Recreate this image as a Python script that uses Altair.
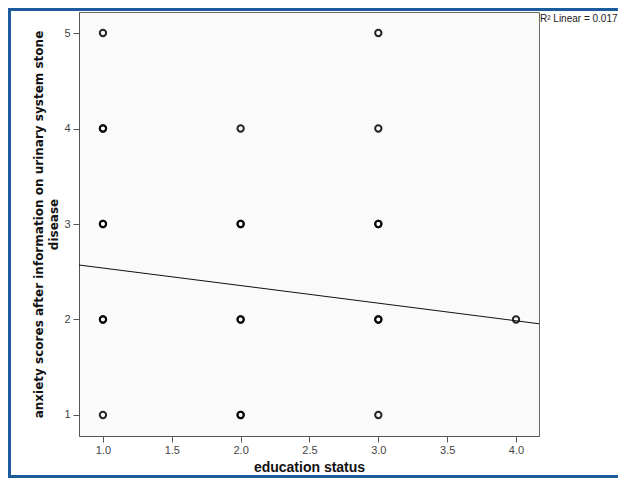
import altair as alt
import pandas as pd

# observed cases (duplicates = overlapping cases, drawn darker)
edu = [1, 1, 1, 1, 1, 1, 1, 1,
       2, 2, 2, 2, 2, 2, 2,
       3, 3, 3, 3, 3, 3, 3,
       4]
anx = [5, 4, 4, 3, 2, 2, 1, 3,
       4, 3, 3, 2, 2, 1, 1,
       5, 4, 3, 3, 2, 2, 1,
       2]

# fitted linear line
line_x = [0.826, 4.167]
line_y = [2.571, 1.956]

x_ticks = [1.0, 1.5, 2.0, 2.5, 3.0, 3.5, 4.0]
y_ticks = [1, 2, 3, 4, 5]
x_domain = [0.826, 4.167]
y_domain = [0.78, 5.22]

r2_label = "R² Linear = 0.017"

pts = pd.DataFrame({"edu": edu, "anx": anx})
ln = pd.DataFrame({"edu": line_x, "anx": line_y})

FONT = "Liberation Sans"
BLUE = "#1d5c9c"

xscale = alt.Scale(domain=x_domain, nice=False, zero=False)
yscale = alt.Scale(domain=y_domain, nice=False, zero=False)

xax = alt.Axis(values=x_ticks, format=".1f", title="education status",
               grid=False, tickSize=6, tickColor="#555", domainColor="#555",
               labelColor="#444", labelFont=FONT, labelFontSize=11, labelPadding=2,
               titleFont=FONT, titleFontSize=14, titleFontWeight="bold",
               titleColor="#111", titlePadding=5)
yax = alt.Axis(values=y_ticks, format="d",
               title=["anxiety scores after information on urinary system stone", "disease"],
               grid=False, tickSize=6, tickColor="#555", domainColor="#555",
               labelColor="#444", labelFont=FONT, labelFontSize=11, labelPadding=3,
               titleFont="DejaVu Sans", titleFontSize=12, titleFontWeight="bold",
               titleColor="#111", titlePadding=3, titleLineHeight=15)

points = alt.Chart(pts).mark_point(shape="circle", filled=False, size=40,
                                   strokeWidth=2, color="#000", opacity=0.85).encode(
    x=alt.X("edu:Q", scale=xscale, axis=xax),
    y=alt.Y("anx:Q", scale=yscale, axis=yax),
)

fit = alt.Chart(ln).mark_line(color="#111", strokeWidth=1.1).encode(
    x=alt.X("edu:Q", scale=xscale),
    y=alt.Y("anx:Q", scale=yscale),
)

r2 = alt.Chart(pd.DataFrame({"t": [r2_label]})).mark_text(
    align="left", baseline="top", font=FONT, fontSize=10, color="#222").encode(
    x=alt.value(461), y=alt.value(2), text="t:N")

# decorative blue frame (top, left, bottom)
frame_top = alt.Chart(pd.DataFrame({"a": [0]})).mark_rule(color=BLUE, strokeWidth=3).encode(
    x=alt.value(-71), x2=alt.value(539), y=alt.value(-2.5))
frame_left = alt.Chart(pd.DataFrame({"a": [0]})).mark_rule(color=BLUE, strokeWidth=3).encode(
    x=alt.value(-69.5), y=alt.value(-4), y2=alt.value(466))
frame_bot = alt.Chart(pd.DataFrame({"a": [0]})).mark_rule(color=BLUE, strokeWidth=3).encode(
    x=alt.value(-71), x2=alt.value(539), y=alt.value(464.5))

chart = alt.layer(points, fit, r2, frame_top, frame_left, frame_bot).properties(
    width=460, height=424,
    padding={"left": 71, "top": 4, "right": 79, "bottom": 42},
    autosize=alt.AutoSizeParams(type="none"),
).configure_view(
    fill="#fafafa", stroke="#666", strokeWidth=1
)

chart.save("out.html", embed_options={"renderer": "svg", "actions": False})
